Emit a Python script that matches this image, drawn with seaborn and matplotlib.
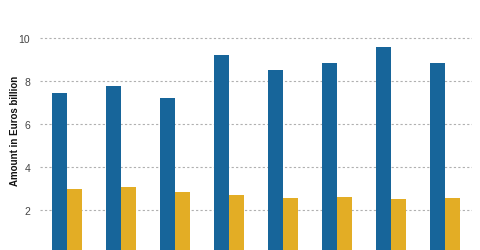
import matplotlib
matplotlib.use("Agg")
import matplotlib.pyplot as plt
import seaborn as sns
import pandas as pd

categories = ["2010", "2011", "2012", "2013", "2014", "2015", "2016", "2017"]
series_a = [7.43, 7.77, 7.21, 9.22, 8.50, 8.84, 9.60, 8.84]
series_b = [2.98, 3.07, 2.82, 2.68, 2.57, 2.60, 2.53, 2.56]
series_names = ["Series A", "Series B"]
colors = ["#17659a", "#e3ad25"]
yticks = [0, 2, 4, 6, 8, 10]

df = pd.DataFrame({
    "category": categories * 2,
    "value": series_a + series_b,
    "series": [series_names[0]] * len(categories) + [series_names[1]] * len(categories),
})

sns.set_theme(style="white")
plt.rcParams["font.family"] = ["Liberation Sans", "DejaVu Sans"]

fig = plt.figure(figsize=(4.8, 2.51), dpi=100)
ax = fig.add_axes([40 / 480, (251 - 254) / 251, 432 / 480, 11 * 21.5 / 251])

sns.barplot(data=df, x="category", y="value", hue="series", palette=colors,
            width=0.557, saturation=1, ax=ax, legend=False, linewidth=0)

ax.set_xlim(-0.5, 7.5)
ax.set_ylim(0, 11)
ax.set_yticks(yticks)
ax.set_yticklabels([str(t) for t in yticks])
ax.yaxis.grid(True, color="#b0b0b0", linestyle=(0, (2, 2)), linewidth=0.8)
ax.set_axisbelow(True)
ax.tick_params(axis="y", length=0, pad=7, labelsize=7.5, labelcolor="#444444")
ax.tick_params(axis="x", length=0, pad=12, labelsize=7.5, labelcolor="#444444")
ax.set_xlabel("")
ax.set_ylabel("Amount in Euros billion", fontsize=7, fontweight="bold", color="#111111")
ax.yaxis.set_label_coords((20.5 - 40) / 432, (254 - 131) / 236.5)
for s in ax.spines.values():
    s.set_visible(False)

fig.savefig("out.png", dpi=100)
